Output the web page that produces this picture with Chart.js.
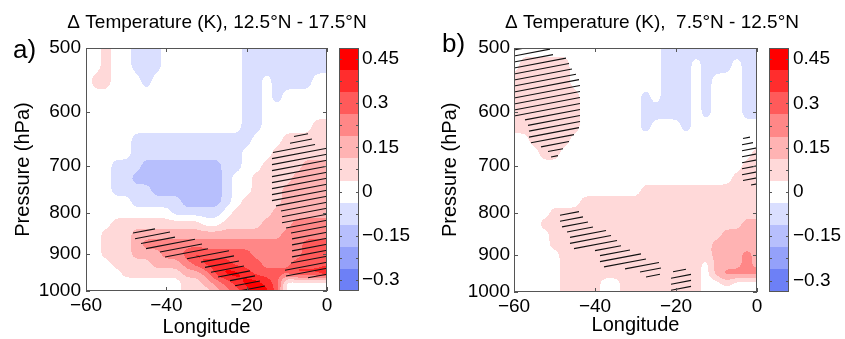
<!DOCTYPE html>
<html>

<head>
    <meta charset="UTF-8" />
    <title>Δ Temperature</title>
    <script src="https://cdn.jsdelivr.net/npm/chart.js"></script>
    <style>
        html, body { margin: 0; overflow: hidden; background: #fff; }
        body { position: relative; width: 845px; height: 339px; font-family: "Liberation Sans", Arial, sans-serif; }
        canvas { position: absolute; top: 0; }
        .letra { position: absolute; font-size: 26px; line-height: 1; color: #000; }
    </style>
</head>

<body>
    <canvas id="panelA" width="434" height="339" style="left:0"></canvas>
    <canvas id="panelB" width="454" height="339" style="left:425px"></canvas>
    <div class="letra" style="left:13px; top:36px">a)</div>
    <div class="letra" style="left:442px; top:30px">b)</div>

    <script>
    // grid nodes
    const lon = [-60, -57.5, -55, -52.5, -50, -47.5, -45, -42.5, -40, -37.5, -35, -32.5, -30,
                 -27.5, -25, -22.5, -20, -17.5, -15, -12.5, -10, -7.5, -5, -2.5, 0];
    const pres = [500, 525, 550, 575, 600, 625, 650, 675, 700, 725, 750, 775, 800,
                  825, 850, 875, 900, 925, 950, 975, 1000];

    // temperature change, in contour steps of 0.075 K (one row per pressure level)
    const tempA = [
        [0,0,1,0,0,-1,-1,-1,0,0,0,0,0,0,0,0,-1,-1,-1,-1,-1,-1,-1,-1,-1],
        [0,0,1,0,0,-1,-1,-1,0,0,0,0,0,0,0,0,-1,-1,-1,-1,-1,-1,-1,-1,-1],
        [0,1,1,0,0,0,-1,0,0,0,0,0,0,0,0,0,-1,-1,0,-1,-1,-1,-1,0,0],
        [0,0,0,0,0,0,0,0,0,0,0,0,0,0,0,0,-1,-1,0,-1,0,0,0,0,0],
        [0,0,0,0,0,0,0,0,0,0,0,0,0,0,0,0,-1,-1,0,0,0,0,0,0,0],
        [0,0,0,0,0,0,0,0,0,0,0,0,0,0,0,0,-1,-1,0,0,0,0,0,1,1],
        [0,0,0,0,0,-1,-1,-1,-1,-1,-1,-1,-1,-1,-1,-1,-1,0,0,0,1,1,1,1,1],
        [0,0,0,0,0,-1,-1,-1,-1,-1,-1,-1,-1,-1,-1,-1,0,0,0,1,1,1,1,1,1],
        [0,0,0,-1,-1,-1,-2,-2,-2,-2,-2,-2,-2,-2,-1,-1,0,0,1,1,1,1,2,2,2],
        [0,0,0,-1,-1,-2,-2,-2,-2,-2,-2,-2,-2,-2,-1,0,0,1,1,1,1,2,2,2,2],
        [0,0,0,-1,-1,-1,-1,-2,-2,-2,-2,-2,-2,-2,-1,0,0,1,1,1,2,2,2,2,2],
        [0,0,0,0,0,-1,-1,-1,-1,-1,-2,-2,-2,-2,-1,0,1,1,1,1,2,2,2,2,2],
        [0,0,0,0,0,0,0,0,0,-1,-1,-1,-1,-1,0,1,1,1,1,2,2,2,2,2,2],
        [0,0,0,1,1,1,1,1,1,1,1,1,0,0,1,1,1,1,2,2,2,3,3,3,3],
        [0,0,1,1,1,2,2,2,2,2,2,2,2,2,2,2,2,2,2,2,3,3,3,3,3],
        [0,0,1,1,1,2,3,3,3,3,3,3,3,3,3,3,3,3,3,3,3,3,4,4,4],
        [0,0,1,1,1,2,2,2,3,3,4,5,4,4,4,4,4,3,3,3,3,3,4,4,4],
        [0,0,0,1,1,1,1,2,2,2,3,4,5,5,5,4,4,4,3,3,3,4,4,4,4],
        [0,0,0,0,1,1,1,1,1,1,2,2,3,5,6,6,5,4,4,4,4,5,5,5,6],
        [0,0,0,0,0,0,0,0,0,0,1,1,2,3,4,5,6,6,5,4,0,0,0,0,0],
        [0,0,0,0,0,0,0,0,0,0,1,1,1,2,3,4,5,6,6,4,0,0,0,0,0]
    ];
    const tempB = [
        [0,0,0,0,0,0,0,0,0,0,0,0,0,0,0,-1,-1,-1,-1,-1,-1,-1,-1,-1,-1],
        [0,1,1,1,1,1,0,0,0,0,0,0,0,0,0,-1,-1,-1,0,-1,-1,-1,0,-1,-1],
        [1,1,1,1,1,1,0,0,0,0,0,0,0,0,0,-1,-1,-1,0,-1,0,0,0,-1,-1],
        [1,1,1,1,1,1,1,0,0,0,0,0,0,-1,0,-1,-1,-1,0,-1,0,0,0,-1,-1],
        [1,1,1,1,1,1,1,0,0,0,0,0,0,-1,-1,-1,-1,-1,0,-1,0,0,0,-1,-1],
        [1,1,1,1,1,1,1,0,0,0,0,0,0,-1,0,0,0,-1,0,0,0,0,0,0,0],
        [0,0,1,1,1,1,0,0,0,0,0,0,0,0,0,0,0,0,0,0,0,0,0,0,0],
        [0,0,0,1,1,0,0,0,0,0,0,0,0,0,0,0,0,0,0,0,0,0,0,0,1],
        [0,0,0,0,0,0,0,0,0,0,0,0,0,0,0,0,0,0,0,0,0,0,0,1,1],
        [0,0,0,0,0,0,0,0,0,0,0,0,0,0,0,0,0,0,0,0,0,0,1,1,1],
        [0,0,0,0,0,0,0,0,0,0,0,0,0,1,1,1,1,1,1,1,1,1,1,1,1],
        [0,0,0,0,0,0,0,1,1,1,1,1,1,1,1,1,1,1,1,1,1,1,1,1,1],
        [0,0,0,0,1,1,1,1,1,1,1,1,1,1,1,1,1,1,1,1,1,1,1,1,1],
        [0,0,0,1,1,1,1,1,1,1,1,1,1,1,1,1,1,1,1,1,1,1,1,2,2],
        [0,0,0,0,1,1,1,1,1,1,1,1,1,1,1,1,1,1,1,1,1,2,2,2,2],
        [0,0,0,0,1,1,1,1,1,1,1,1,1,1,1,1,1,1,1,1,2,2,2,2,2],
        [0,0,0,0,0,1,1,1,1,1,1,1,1,1,1,1,1,1,1,1,2,2,2,3,2],
        [0,0,0,0,0,1,1,1,1,1,1,1,1,1,1,1,1,1,1,0,2,2,2,3,2],
        [0,0,0,0,0,1,1,1,1,1,1,1,1,1,1,1,1,1,1,0,2,3,3,3,3],
        [0,0,0,0,0,1,1,1,1,0,0,1,1,1,1,1,1,1,1,0,0,1,0,0,0],
        [0,0,0,0,0,1,1,1,1,0,0,1,1,1,1,1,1,1,1,0,0,0,0,0,0]
    ];

    // hatched (significant) parts: [pressure, lon from, lon to]
    const sigA = [
        [650, -7.5, -5], [675, -12.5, 0], [700, -12.5, 0], [725, -12.5, 0], [750, -12.5, 0],
        [775, -12.5, 0], [800, -10, 0], [825, -10, 0],
        [850, -47.5, -40], [850, -7.5, 0], [875, -45, -32.5], [875, -7.5, 0],
        [900, -40, -25], [900, -7.5, 0], [925, -30, -22.5], [925, -7.5, 0],
        [950, -27.5, -20], [950, -10, 0], [975, -22.5, -17.5], [1000, -20, -15]
    ];
    const sigB = [
        [500, -60, -52.5], [525, -60, -47.5], [550, -60, -45], [575, -60, -45], [600, -60, -45],
        [625, -55, -45], [650, -55, -47.5], [650, -2.5, -2.5], [675, -50, -50], [675, -2.5, 0],
        [700, -2.5, 0], [725, -2.5, 0],
        [800, -47.5, -45], [825, -47.5, -42.5], [850, -45, -37.5], [875, -45, -35],
        [900, -37.5, -30], [925, -37.5, -25], [950, -27.5, -25], [950, -20, -17.5],
        [975, -20, -17.5], [1000, -20, -17.5]
    ];

    const lonTicks = [-60, -40, -20, 0];
    const presTicks = [500, 600, 700, 800, 900, 1000];
    const STEP = 0.075;
    const bandLevels = [-0.3, -0.225, -0.15, -0.075, 0, 0.075, 0.15, 0.225, 0.3, 0.375, 0.45];
    const bandColors = ['#6d80f6', '#94a1fa', '#b7bffd', '#dadfff', '#ffffff', '#ffd9d9',
                        '#ffb3b3', '#ff8787', '#ff5a5a', '#ff2d2d', '#ff0000'];
    const cbTicks = [-0.3, -0.15, 0, 0.15, 0.3, 0.45];

    Chart.defaults.font.family = '"Liberation Sans", Arial, sans-serif';
    Chart.defaults.color = '#000';

    const rgb = bandColors.map(h => [1, 3, 5].map(k => parseInt(h.slice(k, k + 2), 16)));

    function fmt(v) {
        return v < 0 ? '\u2212' + Math.abs(v) : String(v);
    }

    // fractional index of v in an ascending array
    function locate(arr, v) {
        const n = arr.length - 1;
        if (v <= arr[0]) return 0;
        if (v >= arr[n]) return n;
        let k = 0;
        while (arr[k + 1] < v) k++;
        return k + (v - arr[k]) / (arr[k + 1] - arr[k]);
    }

    function sample(grid, fi, fj) {
        const i0 = Math.min(Math.floor(fi), lon.length - 2);
        const j0 = Math.min(Math.floor(fj), pres.length - 2);
        const ti = fi - i0, tj = fj - j0;
        const a = grid[j0][i0], b = grid[j0][i0 + 1];
        const c = grid[j0 + 1][i0], d = grid[j0 + 1][i0 + 1];
        return (a * (1 - ti) + b * ti) * (1 - tj) + (c * (1 - ti) + d * ti) * tj;
    }

    function maskFrom(sig) {
        const m = pres.map(() => lon.map(() => 0));
        sig.forEach(([p, a, b]) => {
            const j = pres.indexOf(p);
            lon.forEach((l, i) => { if (l >= a && l <= b) m[j][i] = 1; });
        });
        return m;
    }

    // soften the cell corners the way a contour routine would
    function blur(f, w, h, r) {
        const t = new Float32Array(w * h);
        for (let pass = 0; pass < 2; pass++) {
            for (let j = 0; j < h; j++) {
                for (let i = 0; i < w; i++) {
                    let s = 0;
                    for (let k = -r; k <= r; k++) s += f[j * w + Math.min(w - 1, Math.max(0, i + k))];
                    t[j * w + i] = s / (2 * r + 1);
                }
            }
            for (let j = 0; j < h; j++) {
                for (let i = 0; i < w; i++) {
                    let s = 0;
                    for (let k = -r; k <= r; k++) s += t[Math.min(h - 1, Math.max(0, j + k)) * w + i];
                    f[j * w + i] = s / (2 * r + 1);
                }
            }
        }
        return f;
    }

    function campo(grid, fis, fjs) {
        const w = fis.length, h = fjs.length;
        const f = new Float32Array(w * h);
        for (let j = 0; j < h; j++) {
            for (let i = 0; i < w; i++) f[j * w + i] = sample(grid, fis[i], fjs[j]);
        }
        return blur(f, w, h, 3);
    }

    function capa(grid, mask, cbGap) {
        return {
            id: 'capa',
            beforeDatasetsDraw(chart) {
                const { ctx, chartArea: ca, scales: { x, y } } = chart;
                const left = Math.round(ca.left), top = Math.round(ca.top);
                const w = Math.round(ca.right) - left, h = Math.round(ca.bottom) - top;
                const fis = [], fjs = [];
                for (let i = 0; i < w; i++) fis.push(locate(lon, x.getValueForPixel(left + i + 0.5)));
                for (let j = 0; j < h; j++) fjs.push(locate(pres, y.getValueForPixel(top + j + 0.5)));

                // filled contours
                const f = campo(grid, fis, fjs);
                const off = document.createElement('canvas');
                off.width = w; off.height = h;
                const octx = off.getContext('2d');
                const img = octx.createImageData(w, h);
                for (let n = 0; n < w * h; n++) {
                    const k = Math.max(-4, Math.min(6, Math.round(f[n]))) + 4;
                    img.data[n * 4] = rgb[k][0]; img.data[n * 4 + 1] = rgb[k][1];
                    img.data[n * 4 + 2] = rgb[k][2]; img.data[n * 4 + 3] = 255;
                }
                octx.putImageData(img, 0, 0);
                ctx.drawImage(off, left, top);

                // hatching
                const m = campo(mask, fis, fjs);
                ctx.save();
                ctx.beginPath(); ctx.rect(left, top, w, h); ctx.clip();
                ctx.beginPath();
                const slope = -0.19, gap = 6;
                for (let y0 = top + 2; y0 < top + h - slope * w + gap; y0 += gap) {
                    let start = -1;
                    for (let i = 0; i <= w; i++) {
                        const yy = y0 + slope * i;
                        const j = Math.floor(yy - top);
                        const on = i < w && j >= 0 && j < h && m[j * w + i] >= 0.5;
                        if (on && start < 0) start = i;
                        if (!on && start >= 0) {
                            if (i - start > 3) {
                                ctx.moveTo(left + start, y0 + slope * start);
                                ctx.lineTo(left + i, y0 + slope * i);
                            }
                            start = -1;
                        }
                    }
                }
                ctx.lineWidth = 1.1;
                ctx.strokeStyle = '#111';
                ctx.stroke();
                ctx.restore();
            },
            afterDraw(chart) {
                const { ctx, chartArea: ca, scales: { x, y, cb } } = chart;
                const left = Math.round(ca.left), top = Math.round(ca.top);
                const right = Math.round(ca.right), bottom = Math.round(ca.bottom);
                ctx.save();
                ctx.strokeStyle = '#555';
                ctx.lineWidth = 1;
                ctx.strokeRect(left + 0.5, top + 0.5, right - left - 1, bottom - top - 1);
                ctx.beginPath();
                lonTicks.forEach(v => {
                    const px = Math.round(x.getPixelForValue(v)) + 0.5;
                    ctx.moveTo(px, bottom); ctx.lineTo(px, bottom - 4);
                    ctx.moveTo(px, top); ctx.lineTo(px, top + 4);
                });
                presTicks.forEach(v => {
                    const py = Math.round(y.getPixelForValue(v)) + 0.5;
                    ctx.moveTo(left, py); ctx.lineTo(left + 4, py);
                    ctx.moveTo(right, py); ctx.lineTo(right - 4, py);
                });
                ctx.stroke();

                // colour bar
                const bx = Math.round(cb.left) + cbGap, bw = 20;
                bandLevels.forEach((v, k) => {
                    const y0 = Math.round(cb.getPixelForValue(v + STEP / 2));
                    const y1 = Math.round(cb.getPixelForValue(v - STEP / 2));
                    ctx.fillStyle = bandColors[k];
                    ctx.fillRect(bx, y0, bw, y1 - y0);
                });
                ctx.strokeRect(bx + 0.5, top + 0.5, bw - 1, bottom - top - 1);
                ctx.beginPath();
                bandLevels.forEach(v => {
                    const py = Math.round(cb.getPixelForValue(v)) + 0.5;
                    ctx.moveTo(bx, py); ctx.lineTo(bx + 3, py);
                    ctx.moveTo(bx + bw, py); ctx.lineTo(bx + bw - 3, py);
                });
                ctx.stroke();
                ctx.restore();
            }
        };
    }

    function hacerPanel(id, o) {
        return new Chart(document.getElementById(id), {
            type: 'scatter',
            data: { datasets: [{ data: [] }] },
            plugins: [capa(o.grid, maskFrom(o.sig), 12)],
            options: {
                responsive: false,
                animation: false,
                devicePixelRatio: 1,
                layout: { padding: 0 },
                plugins: {
                    legend: { display: false },
                    tooltip: { enabled: false },
                    title: {
                        display: true,
                        text: o.title,
                        font: { size: 19, weight: 'normal' },
                        padding: { top: 11.6, bottom: 13.6 }
                    }
                },
                scales: {
                    x: {
                        type: 'linear', min: -60, max: 0,
                        afterBuildTicks: s => { s.ticks = lonTicks.map(v => ({ value: v })); },
                        ticks: { callback: v => fmt(v), font: { size: 19 }, padding: 3.5, maxRotation: 0, autoSkip: false },
                        grid: { display: false, drawTicks: false },
                        border: { display: false },
                        title: { display: true, text: 'Longitude', font: { size: 20 }, padding: 0 },
                        afterFit: s => { s.height = o.xHeight; }
                    },
                    y: {
                        type: 'logarithmic', reverse: true, min: 500, max: 1000,
                        afterBuildTicks: s => { s.ticks = presTicks.map(v => ({ value: v })); },
                        ticks: { callback: v => String(v), font: { size: 19 }, padding: o.yTickPad, autoSkip: false },
                        grid: { display: false, drawTicks: false },
                        border: { display: false },
                        title: { display: true, text: 'Pressure (hPa)', font: { size: 20 }, padding: { top: o.yTitlePad, bottom: 0 } },
                        afterFit: s => { s.width = o.yWidth; }
                    },
                    cb: {
                        type: 'linear', position: 'right', min: -0.3375, max: 0.4875,
                        afterBuildTicks: s => { s.ticks = cbTicks.map(v => ({ value: v })); },
                        ticks: { callback: v => fmt(v), font: { size: 19 }, padding: o.cbPad, autoSkip: false },
                        grid: { display: false, drawTicks: false },
                        border: { display: false },
                        afterFit: s => { s.width = o.cbWidth; }
                    }
                }
            }
        });
    }

    hacerPanel('panelA', {
        title: 'Δ Temperature (K), 12.5°N - 17.5°N',
        grid: tempA, sig: sigA,
        yWidth: 86, cbWidth: 107, xHeight: 48, yTickPad: 5, yTitlePad: 11, cbPad: 35
    });
    hacerPanel('panelB', {
        title: 'Δ Temperature (K),  7.5°N - 12.5°N',
        grid: tempB, sig: sigB,
        yWidth: 89, cbWidth: 122, xHeight: 46, yTickPad: 4, yTitlePad: 13, cbPad: 36
    });
    </script>
</body>

</html>
